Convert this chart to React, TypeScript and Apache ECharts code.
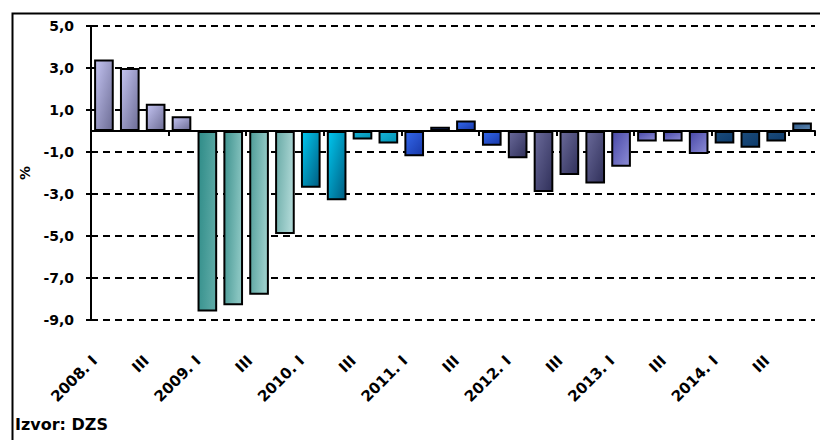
import React, { useEffect, useRef } from "react";
import * as echarts from "echarts";

const categories = [
  "2008. I", "II", "III", "IV",
  "2009. I", "II", "III", "IV",
  "2010. I", "II", "III", "IV",
  "2011. I", "II", "III", "IV",
  "2012. I", "II", "III", "IV",
  "2013. I", "II", "III", "IV",
  "2014. I", "II", "III", "IV",
];

const values = [
  3.4, 3.0, 1.3, 0.7,
  -8.6, -8.3, -7.8, -4.9,
  -2.7, -3.3, -0.4, -0.6,
  -1.2, 0.2, 0.5, -0.7,
  -1.3, -2.9, -2.1, -2.5,
  -1.7, -0.5, -0.5, -1.1,
  -0.6, -0.8, -0.5, 0.4,
];

const yMin = -9;
const yMax = 5;
const yStep = 2;
const yAxisName = "%";
const sourceNote = "Izvor: DZS";

// style palette per bar: [start colour, end colour, x1, y1]
const barPalette: [string, string, number, number][] = [
  ["#c4c4f2", "#6c6c94", 1, 1], ["#c4c4f2", "#6c6c94", 1, 1], ["#c4c4f2", "#6c6c94", 1, 1], ["#c4c4f2", "#6c6c94", 1, 1],
  ["#2f8c88", "#5aa8a4", 1, 0.3], ["#3e928e", "#88c4c0", 1, 0.3], ["#4e9c98", "#98ccc8", 1, 0.3], ["#68aaa6", "#acd6d4", 1, 0.3],
  ["#00c8f0", "#005c80", 1, 1], ["#00c8f0", "#005c80", 1, 1], ["#18b4d8", "#0090b0", 1, 1], ["#18b4d8", "#0090b0", 1, 1],
  ["#3468ec", "#1838a8", 1, 1], ["#3468ec", "#1838a8", 1, 1], ["#3468ec", "#1838a8", 1, 1], ["#3468ec", "#1838a8", 1, 1],
  ["#6a6a9a", "#30305a", 1, 1], ["#6a6a9a", "#30305a", 1, 1], ["#6a6a9a", "#30305a", 1, 1], ["#6a6a9a", "#30305a", 1, 1],
  ["#4848a8", "#8c8cd4", 1, 1], ["#4848a8", "#8c8cd4", 1, 1], ["#4848a8", "#8c8cd4", 1, 1], ["#4848a8", "#8c8cd4", 1, 1],
  ["#1c4c7c", "#0c3a6a", 1, 1], ["#1c4c7c", "#0c3a6a", 1, 1], ["#1c4c7c", "#0c3a6a", 1, 1], ["#2c5888", "#6088b0", 1, 1],
];

const FONT = "DejaVu Sans";

export default function App() {
  const ref = useRef<HTMLDivElement>(null);

  useEffect(() => {
    if (!ref.current) return;
    const chart = echarts.init(ref.current, undefined, { renderer: "svg" });

    const barData = values.map((v, i) => {
      const p = barPalette[i];
      return {
        value: v,
        itemStyle: {
          color: new echarts.graphic.LinearGradient(0, 0, p[2], p[3], [
            { offset: 0, color: p[0] },
            { offset: 1, color: p[1] },
          ]),
          borderColor: "#000",
          borderWidth: 2,
        },
      };
    });

    chart.setOption({
      animation: false,
      backgroundColor: "#fff",
      textStyle: { fontFamily: FONT },
      grid: { left: 91, right: 5, top: 26, bottom: 120, containLabel: false },
      xAxis: [
        {
          type: "category",
          data: categories,
          position: "bottom",
          axisLine: { show: false, onZero: false },
          axisTick: { show: false },
          axisLabel: {
            interval: 1,
            rotate: 45,
            margin: 29,
            padding: [0, 13, 0, 0],
            color: "#000",
            fontFamily: FONT,
            fontWeight: "bold",
            fontSize: 15,
          },
          splitLine: { show: false },
        },
        {
          type: "category",
          data: categories,
          position: "bottom",
          axisLine: { show: true, onZero: true, lineStyle: { color: "#000", width: 2 } },
          axisTick: { show: true, length: 5, lineStyle: { color: "#000", width: 2 } },
          axisLabel: { show: false },
          splitLine: { show: false },
        },
      ],
      yAxis: {
        type: "value",
        min: yMin,
        max: yMax,
        interval: yStep,
        name: yAxisName,
        nameLocation: "middle",
        nameGap: 58,
        nameRotate: 90,
        nameTextStyle: { color: "#000", fontFamily: FONT, fontWeight: "bold", fontSize: 14 },
        axisLine: { show: true, lineStyle: { color: "#000", width: 2 } },
        axisTick: { show: true, length: 5, lineStyle: { color: "#000", width: 2 } },
        axisLabel: {
          margin: 17,
          color: "#000",
          fontFamily: FONT,
          fontWeight: "bold",
          fontSize: 14,
          formatter: (v: number) => v.toFixed(1).replace(".", ","),
        },
        splitLine: { show: true, lineStyle: { color: "#000", width: 2, type: [7, 5] } },
      },
      series: [
        {
          type: "bar",
          xAxisIndex: 0,
          data: barData,
          barCategoryGap: "24%",
        },
      ],
      graphic: [
        {
          type: "rect",
          left: 10,
          top: 11,
          shape: { width: 840, height: 460 },
          style: { fill: "none", stroke: "#000", lineWidth: 2 },
          silent: true,
          z: 100,
        },
        {
          type: "text",
          left: 15,
          top: 416,
          style: { text: sourceNote, fill: "#000", font: `bold 16px "${FONT}"` },
        },
      ],
    });

    return () => chart.dispose();
  }, []);

  return (
    <div
      ref={ref}
      style={{ position: "fixed", left: 0, top: 0, width: 820, height: 440 }}
    />
  );
}
